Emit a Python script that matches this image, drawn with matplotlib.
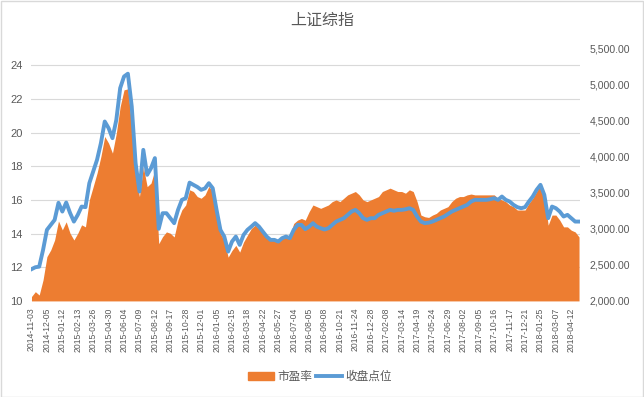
import numpy as np
import matplotlib
matplotlib.use('Agg')
import matplotlib.pyplot as plt
from matplotlib.patches import Rectangle
from matplotlib.lines import Line2D
from matplotlib.ticker import FuncFormatter

plt.rcParams['font.family'] = ['Liberation Sans', 'Noto Sans CJK SC', 'DejaVu Sans']

# one sample every ~6 trading days, a tick label every 4 samples
tick_labels = [
    '2014-11-03', '2014-12-05', '2015-01-12', '2015-02-13', '2015-03-26', '2015-04-30',
    '2015-06-04', '2015-07-09', '2015-08-12', '2015-09-17', '2015-10-28', '2015-12-01',
    '2016-01-05', '2016-02-15', '2016-03-18', '2016-04-22', '2016-05-27', '2016-07-04',
    '2016-08-05', '2016-09-08', '2016-10-21', '2016-11-24', '2016-12-28', '2017-02-08',
    '2017-03-14', '2017-04-19', '2017-05-24', '2017-06-29', '2017-08-02', '2017-09-05',
    '2017-10-16', '2017-11-17', '2017-12-21', '2018-01-25', '2018-03-07', '2018-04-12',
]

pe = [
    10.26, 10.55, 10.35, 11.25, 12.63, 13.03, 13.62, 14.75, 14.22, 14.7,
    14.02, 13.62, 14.02, 14.52, 14.4, 16.0, 16.79, 17.59, 18.58, 19.77,
    19.37, 18.78, 19.96, 21.55, 22.54, 22.6, 20.36, 17.39, 16.2, 17.98,
    16.79, 17.0, 17.8, 13.4, 13.82, 14.1, 14.02, 13.8, 14.81, 15.41,
    15.7, 16.6, 16.5, 16.2, 16.1, 16.3, 16.8, 16.5, 15.2, 14.0,
    13.6, 12.6, 13.0, 13.3, 12.9, 13.5, 13.9, 14.3, 14.5, 14.3,
    14.1, 13.8, 13.6, 13.6, 13.5, 13.7, 13.8, 13.9, 14.6, 14.8,
    14.9, 14.8, 15.3, 15.7, 15.6, 15.5, 15.6, 15.7, 15.9, 16.0,
    15.9, 16.1, 16.3, 16.4, 16.5, 16.3, 16.0, 15.9, 16.0, 16.1,
    16.2, 16.5, 16.6, 16.7, 16.6, 16.5, 16.5, 16.4, 16.6, 16.5,
    15.9, 15.1, 15.0, 14.96, 15.1, 15.2, 15.4, 15.5, 15.6, 15.9,
    16.1, 16.2, 16.2, 16.3, 16.35, 16.3, 16.3, 16.3, 16.3, 16.3,
    16.3, 16.1, 16.0, 15.9, 15.7, 15.6, 15.4, 15.4, 15.4, 15.8,
    16.1, 16.5, 16.9, 16.2, 14.5, 15.1, 15.1, 14.8, 14.4, 14.4,
    14.2, 14.1, 13.8,
]

close = [
    2440, 2467, 2475, 2707, 2985, 3054, 3123, 3360, 3239, 3364,
    3220, 3100, 3193, 3308, 3300, 3632, 3794, 3956, 4187, 4487,
    4395, 4256, 4510, 4950, 5111, 5150, 4695, 3910, 3516, 4094,
    3748, 3840, 3980, 3000, 3216, 3216, 3147, 3078, 3262, 3401,
    3424, 3640, 3609, 3580, 3540, 3560, 3632, 3563, 3262, 2985,
    2892, 2684, 2823, 2892, 2777, 2915, 2985, 3030, 3078, 3030,
    2962, 2892, 2846, 2846, 2823, 2870, 2892, 2870, 2985, 3054,
    3054, 2995, 3030, 3078, 3030, 3008, 2990, 3008, 3054, 3100,
    3124, 3147, 3193, 3239, 3262, 3216, 3147, 3124, 3147, 3147,
    3193, 3216, 3239, 3262, 3250, 3262, 3262, 3270, 3285, 3262,
    3170, 3100, 3078, 3085, 3100, 3124, 3147, 3170, 3205, 3239,
    3262, 3285, 3308, 3332, 3378, 3401, 3401, 3401, 3401, 3410,
    3424, 3401, 3447, 3401, 3378, 3332, 3300, 3285, 3300, 3378,
    3447, 3540, 3609, 3470, 3147, 3308, 3285, 3239, 3170, 3193,
    3147, 3100, 3100,
]

orange = '#ED7D31'
blue = '#5B9BD5'
txt = '#595959'

x = np.arange(len(pe))

fig = plt.figure(figsize=(6.44, 3.97), dpi=100)
ax = fig.add_axes([0.048, 0.242, 0.852, 0.636])
ax2 = ax.twinx()

ax.fill_between(x, 10, pe, color=orange, lw=0, zorder=2)
ax2.plot(x, close, color=blue, lw=2.8, solid_joinstyle='round', zorder=3)

ax.set_ylim(10, 25)
ax.set_yticks(np.arange(10, 25, 2))
ax2.set_ylim(2000, 5500)
ax2.set_yticks(np.arange(2000, 5501, 500))
ax2.yaxis.set_major_formatter(FuncFormatter(lambda v, p: f'{v:,.2f}'))
ax.set_xlim(-0.15, len(pe) - 0.85)

ax.set_xticks(x[::4])
ax.set_xticklabels(tick_labels, rotation=90, fontsize=6.2, color=txt)
ax.tick_params(axis='x', length=0, pad=5)
ax.tick_params(axis='y', length=0, pad=6, labelsize=8, labelcolor=txt)
ax2.tick_params(axis='y', length=0, pad=7, labelsize=7.6, labelcolor=txt)

ax.set_axisbelow(True)
ax.grid(axis='y', color='#D9D9D9', lw=0.8)
for a in (ax, ax2):
    for s in a.spines.values():
        s.set_visible(False)
ax.axhline(10, color='#D9D9D9', lw=0.8, zorder=1)

fig.text(0.5, 1 - 20 / 397, '上证综指', ha='center', va='center',
         fontsize=11.5, color=txt)

handles = [Rectangle((0, 0), 1, 1, color=orange), Line2D([], [], color=blue, lw=2.8)]
fig.legend(handles, ['市盈率', '收盘点位'], loc='center', bbox_to_anchor=(0.497, 1 - 377 / 397),
           ncol=2, frameon=False, fontsize=8.4, handlelength=2.2, handletextpad=0.3,
           columnspacing=0.3, labelcolor=txt)

fig.patches.append(Rectangle((0.001, 0.001), 0.998, 0.997, transform=fig.transFigure,
                             fill=False, edgecolor='#D9D9D9', lw=1))

fig.savefig('out.png', dpi=100, facecolor='white')
